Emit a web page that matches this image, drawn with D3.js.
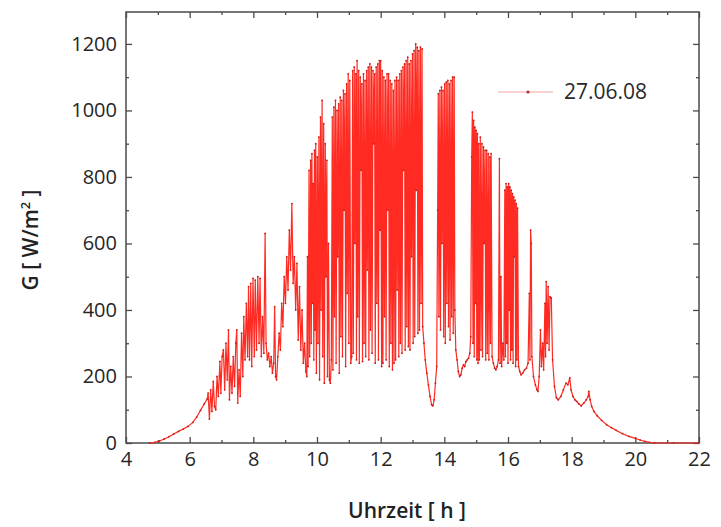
<!DOCTYPE html>
<html>
<head>
<meta charset="utf-8">
<script src="https://cdn.jsdelivr.net/npm/d3@7"></script>
<style>
  body { margin: 0; background: #fff; }
  text { font-family: "Open Sans", "DejaVu Sans", sans-serif; }
</style>
</head>
<body>
<svg id="chart" width="721" height="527"></svg>
<script>
// G [W/m2] over the day as [hour, value]
var dawn = [[4.75,0],[4.9,2],[5.05,6],[5.2,12],[5.35,19],[5.5,27],[5.65,35],[5.8,42],[5.95,50],
  [6.1,62],[6.22,78],[6.34,98],[6.46,118],[6.55,132]];

var morning = [[6.58,150],[6.62,72],[6.66,160],[6.7,95],[6.74,185],[6.78,110],[6.82,100],[6.86,200],
  [6.9,140],[6.95,245],[6.98,150],[7.02,260],[7.06,280],[7.1,160],[7.14,300],[7.18,190],[7.22,340],
  [7.25,130],[7.29,230],[7.33,150],[7.37,260],[7.41,170],[7.45,300],[7.48,340],[7.51,120],[7.55,220],
  [7.59,140],[7.63,330],[7.67,200],[7.7,380],[7.74,250],[7.78,420],[7.82,260],[7.85,470],[7.88,250],
  [7.92,480],[7.95,230],[7.99,495],[8.03,260],[8.06,490],[8.1,280],[8.14,500],[8.18,300],[8.21,495],
  [8.25,260],[8.29,380],[8.33,270],[8.37,630],[8.4,300],[8.44,250],[8.48,270],[8.52,230],[8.56,260],
  [8.6,210],[8.64,240],[8.67,410],[8.7,200],[8.73,190],[8.77,260],[8.81,330],[8.85,280],[8.89,420],
  [8.93,350],[8.97,500],[9.01,420],[9.05,560],[9.09,460],[9.13,640],[9.17,520],[9.21,720],[9.25,480],
  [9.29,560],[9.33,400],[9.37,540],[9.41,310],[9.45,470],[9.49,280],[9.53,400],[9.57,240],[9.61,300],
  [9.65,215],[9.68,200]];

var midday = [[9.70,560],[9.72,230],[9.75,820],[9.77,260],[9.80,850],[9.82,300],[9.84,870],[9.86,420],
  [9.88,780],[9.90,250],[9.92,880],[9.94,340],[9.96,900],[9.98,210],[10.01,860],[10.03,300],[10.06,920],
  [10.08,190],[10.11,980],[10.13,400],[10.16,1030],[10.18,260],[10.21,960],[10.23,180],[10.26,900],
  [10.28,500],[10.31,850],[10.33,200],[10.36,600],[10.39,190],[10.42,180],[10.45,250],[10.48,980],
  [10.50,220],[10.53,1010],[10.55,380],[10.58,1030],[10.60,240],[10.63,1000],[10.65,560],[10.68,1020],
  [10.70,210],[10.73,1040],[10.75,320],[10.78,1030],[10.80,260],[10.83,1060],[10.85,700],[10.88,1050],
  [10.90,230],[10.93,1080],[10.95,450],[10.98,1110],[11.00,300],[11.03,1090],[11.06,240],[11.09,260],
  [11.12,1120],[11.14,270],[11.17,1130],[11.19,600],[11.22,1110],[11.24,250],[11.26,1150],[11.28,380],
  [11.31,1120],[11.33,240],[11.36,1100],[11.38,820],[11.41,1080],[11.43,245],[11.46,1110],[11.48,300],
  [11.51,1090],[11.53,260],[11.56,1120],[11.58,520],[11.61,1130],[11.63,250],[11.66,1140],[11.68,340],
  [11.71,1130],[11.73,270],[11.76,1120],[11.78,900],[11.81,1110],[11.83,240],[11.86,1130],[11.88,420],
  [11.91,1140],[11.93,250],[11.96,1150],[11.98,640],[12.00,1150],[12.03,230],[12.05,1120],[12.07,240],
  [12.10,1100],[12.12,380],[12.15,1090],[12.17,250],[12.20,1110],[12.22,700],[12.25,1110],[12.27,230],
  [12.30,1090],[12.32,300],[12.35,1080],[12.37,220],[12.40,1060],[12.42,240],[12.45,1090],[12.47,250],
  [12.50,1100],[12.52,460],[12.55,1090],[12.57,260],[12.60,1110],[12.62,300],[12.65,1120],[12.67,270],
  [12.70,1130],[12.72,820],[12.75,1140],[12.77,280],[12.80,1150],[12.82,350],[12.85,1160],[12.87,290],
  [12.90,1140],[12.92,280],[12.95,1150],[12.97,560],[13.00,1170],[13.02,300],[13.05,1180],[13.07,320],
  [13.10,1200],[13.12,760],[13.15,1190],[13.17,330],[13.20,1180],[13.22,340],[13.25,1190],[13.27,420],
  [13.30,1185],[13.32,350]];

var cloud = [[13.36,300],[13.40,250],[13.45,210],[13.50,175],[13.55,140],[13.60,115],[13.64,112],
  [13.68,130],[13.72,180],[13.76,230]];

var early_pm = [[13.79,700],[13.81,1050],[13.83,380],[13.86,1060],[13.88,340],[13.91,1070],[13.93,600],
  [13.96,1060],[13.98,320],[14.01,1080],[14.03,300],[14.06,1085],[14.08,420],[14.11,1090],[14.13,350],
  [14.16,1080],[14.18,310],[14.21,1090],[14.23,380],[14.26,1100],[14.28,330],[14.31,1100],[14.33,400],
  [14.36,280],[14.40,250],[14.44,215],[14.48,200],[14.52,205],[14.56,225],[14.60,235],[14.64,230],
  [14.68,245],[14.72,250],[14.76,255],[14.80,270],[14.83,320]];

var afternoon = [[14.86,860],[14.88,995],[14.90,300],[14.92,970],[14.94,260],[14.96,950],[14.98,420],
  [15.00,940],[15.02,250],[15.04,930],[15.06,240],[15.08,900],[15.10,250],[15.13,920],[15.15,280],
  [15.18,900],[15.20,260],[15.23,890],[15.25,600],[15.28,880],[15.30,250],[15.33,880],[15.35,270],
  [15.38,870],[15.40,250],[15.43,860],[15.45,300],[15.47,870],[15.50,260],[15.54,240],[15.58,225],
  [15.62,220],[15.66,230],[15.70,250],[15.73,855],[15.75,240],[15.78,500],[15.80,230],[15.84,300],
  [15.87,250],[15.90,760],[15.92,260],[15.94,780],[15.96,300],[15.98,770],[16.00,240],[16.02,780],
  [16.04,400],[16.06,770],[16.08,250],[16.10,760],[16.12,280],[16.14,750],[16.16,240],[16.18,740],
  [16.20,560],[16.22,730],[16.24,230],[16.26,720],[16.28,250],[16.30,706],[16.33,230],[16.37,215],
  [16.41,205],[16.46,210],[16.52,220],[16.58,225],[16.63,240],[16.67,450],[16.69,250],[16.71,640],
  [16.73,600],[16.75,260],[16.80,200],[16.86,175],[16.91,160],[16.94,155],[16.98,200],[17.02,340],
  [17.05,230],[17.09,300],[17.12,220],[17.16,420],[17.18,260],[17.20,485],[17.23,300],[17.26,470],
  [17.29,280],[17.32,440],[17.36,436],[17.40,250],[17.46,170],[17.52,136],[17.58,130]];

var evening = [[17.66,140],[17.74,160],[17.82,180],[17.88,175],[17.94,196],[17.98,160],[18.04,140],
  [18.10,130],[18.16,125],[18.22,118],[18.30,112],[18.38,120],[18.46,130],[18.52,140],[18.54,155],
  [18.58,130],[18.63,110],[18.70,95],[18.80,82],[18.94,68],[19.10,55],[19.25,46],[19.40,38],[19.60,28],
  [19.80,20],[20.00,14],[20.15,9],[20.30,5],[20.45,2],[20.60,0],[21.2,0],[22.0,0]];

var xTicks = [4,6,8,10,12,14,16,18,20,22];
var yTicks = [0,200,400,600,800,1000,1200];
var seriesName = "27.06.08";

var series = [].concat(dawn, morning, midday, cloud, early_pm, afternoon, evening);

var svg = d3.select("#chart");
var plotL = 126, plotR = 699, plotT = 12, plotB = 443;

var x = d3.scaleLinear().domain([4, 22]).range([plotL, plotR]);
var y = d3.scaleLinear().domain([0, 1296]).range([plotB, plotT]);

var minorX = d3.range(5, 22, 2);
var minorY = d3.range(100, 1300, 200);

// frame
svg.append("rect")
  .attr("x", plotL).attr("y", plotT)
  .attr("width", plotR - plotL).attr("height", plotB - plotT)
  .attr("fill", "none").attr("stroke", "#4a4a4a").attr("stroke-width", 1.5);

function styleAxis(g) {
  g.select(".domain").remove();
  g.selectAll("line").attr("stroke", "#4a4a4a").attr("stroke-width", 1.3);
  g.selectAll("text").attr("fill", "#262626").style("font-size", "20px");
}

svg.append("g").attr("transform", "translate(0," + plotB + ")")
  .call(d3.axisBottom(x).tickValues(xTicks).tickSize(-6).tickPadding(9).tickFormat(d3.format("d")))
  .call(styleAxis);
svg.append("g").attr("transform", "translate(0," + plotB + ")")
  .call(d3.axisBottom(x).tickValues(minorX).tickSize(-3).tickFormat(""))
  .call(styleAxis);
svg.append("g").attr("transform", "translate(0," + plotT + ")")
  .call(d3.axisTop(x).tickValues(xTicks).tickSize(-6).tickFormat(""))
  .call(styleAxis);
svg.append("g").attr("transform", "translate(0," + plotT + ")")
  .call(d3.axisTop(x).tickValues(minorX).tickSize(-3).tickFormat(""))
  .call(styleAxis);

svg.append("g").attr("transform", "translate(" + plotL + ",0)")
  .call(d3.axisLeft(y).tickValues(yTicks).tickSize(-6).tickPadding(9).tickFormat(d3.format("d")))
  .call(styleAxis);
svg.append("g").attr("transform", "translate(" + plotL + ",0)")
  .call(d3.axisLeft(y).tickValues(minorY).tickSize(-3).tickFormat(""))
  .call(styleAxis);
svg.append("g").attr("transform", "translate(" + plotR + ",0)")
  .call(d3.axisRight(y).tickValues(yTicks).tickSize(-6).tickFormat(""))
  .call(styleAxis);
svg.append("g").attr("transform", "translate(" + plotR + ",0)")
  .call(d3.axisRight(y).tickValues(minorY).tickSize(-3).tickFormat(""))
  .call(styleAxis);

// data
var line = d3.line().x(function(d){ return x(d[0]); }).y(function(d){ return y(d[1]); });

svg.append("path")
  .datum(series)
  .attr("d", line)
  .attr("fill", "none")
  .attr("stroke", "#ff2b22")
  .attr("stroke-width", 1.2)
  .attr("stroke-linejoin", "round");

svg.append("g").selectAll("circle")
  .data(series)
  .enter().append("circle")
  .attr("cx", function(d){ return x(d[0]); })
  .attr("cy", function(d){ return y(d[1]); })
  .attr("r", 0.9)
  .attr("fill", "#c8201c");

// legend
var lg = svg.append("g");
lg.append("line").attr("x1", 498).attr("x2", 553).attr("y1", 92).attr("y2", 92)
  .attr("stroke", "#f3a3a3").attr("stroke-width", 1);
lg.append("circle").attr("cx", 528).attr("cy", 92).attr("r", 1.6).attr("fill", "#b03030");
lg.append("text").attr("x", 564).attr("y", 92).attr("dy", "0.35em")
  .attr("fill", "#2a2a2a").style("font-size", "21px").text(seriesName);

// axis titles
svg.append("text")
  .attr("x", 407).attr("y", 518)
  .attr("text-anchor", "middle")
  .attr("fill", "#222").style("font-size", "21px").style("font-weight", "600")
  .text("Uhrzeit [ h ]");

var yt = svg.append("text")
  .attr("transform", "translate(38,240) rotate(-90)")
  .attr("text-anchor", "middle")
  .attr("fill", "#222").style("font-size", "21px").style("font-weight", "600");
yt.append("tspan").text("G [ W/m");
yt.append("tspan").attr("dy", -8).style("font-size", "13px").text("2");
yt.append("tspan").attr("dy", 8).text(" ]");
</script>
</body>
</html>
